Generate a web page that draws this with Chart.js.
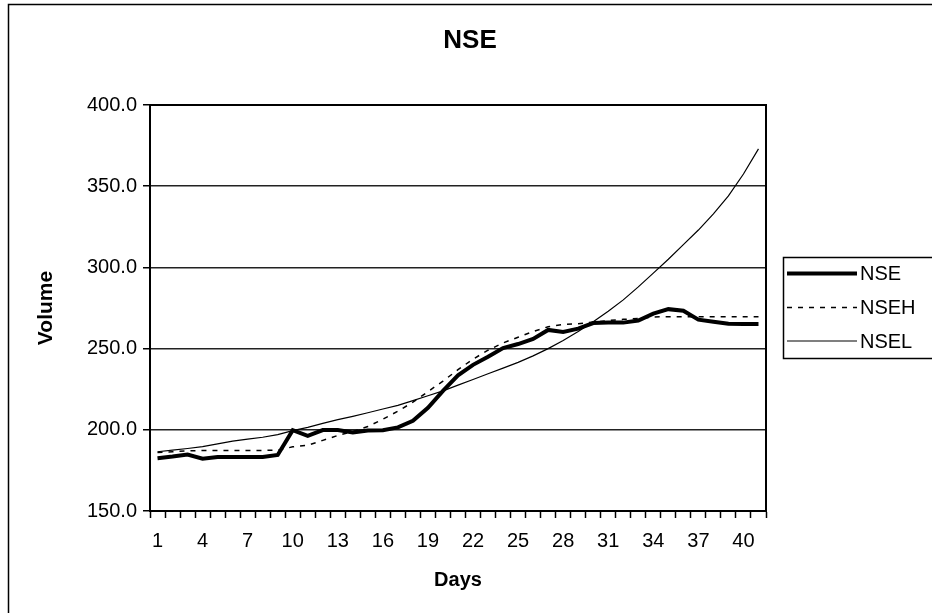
<!DOCTYPE html>
<html>
<head>
<meta charset="utf-8">
<script src="https://cdn.jsdelivr.net/npm/chart.js@4"></script>
<style>
  html, body { margin: 0; padding: 0; background: #fff; }
</style>
</head>
<body>
<canvas id="chart" width="932" height="613"></canvas>
<script>
// data
const days = [1, 2, 3, 4, 5, 6, 7, 8, 9, 10, 11, 12, 13, 14, 15, 16, 17, 18, 19, 20,
  21, 22, 23, 24, 25, 26, 27, 28, 29, 30, 31, 32, 33, 34, 35, 36, 37, 38, 39, 40, 41];

const nse = [182.5, 183.5, 184.8, 182.2, 183.3, 183.3, 183.3, 183.3, 184.5, 199.8,
  196.3, 199.8, 199.8, 198.3, 199.5, 199.7, 201.5, 205.5, 213.5, 224.0,
  233.5, 240.0, 245.0, 250.3, 252.8, 256.0, 261.5, 260.3, 262.3, 265.7,
  266.0, 266.0, 267.3, 271.5, 274.3, 273.3, 267.8, 266.5, 265.3, 265.1, 265.1];

const nseh = [186.0, 186.5, 187.0, 187.3, 187.3, 187.3, 187.3, 187.3, 187.5, 189.5,
  190.5, 193.5, 196.5, 199.0, 202.0, 206.5, 211.5, 217.0, 223.5, 230.0,
  237.0, 243.5, 249.0, 253.5, 257.0, 260.5, 263.5, 264.8, 265.3, 266.3,
  267.3, 268.0, 268.5, 269.5, 269.6, 269.6, 269.6, 269.6, 269.6, 269.6, 269.6];

const nsel = [186.5, 187.5, 188.5, 189.6, 191.3, 193.0, 194.2, 195.4, 197.0, 199.5,
  201.5, 204.0, 206.3, 208.3, 210.5, 212.8, 215.0, 218.0, 221.0, 224.0,
  227.5, 231.0, 234.5, 238.0, 241.5, 245.5, 250.0, 255.0, 260.5, 266.5,
  273.0, 280.0, 288.0, 296.5, 305.0, 314.0, 323.0, 333.0, 344.0, 357.5, 373.0];

const yMin = 150;
const yMax = 400;
const yStep = 50;

const FONT = "Arial, 'Liberation Sans', sans-serif";

// title, outer frame, plot frame and legend box
const frame = {
  id: 'frame',
  afterDraw(chart) {
    const ctx = chart.ctx;
    const a = chart.chartArea;
    ctx.save();

    // outer border of the chart
    ctx.strokeStyle = '#000';
    ctx.lineWidth = 1.5;
    ctx.strokeRect(8.5, 4.5, 940, 620);

    // top and right side of plot area
    ctx.lineWidth = 2;
    ctx.beginPath();
    ctx.moveTo(a.left, a.top);
    ctx.lineTo(a.right, a.top);
    ctx.lineTo(a.right, a.bottom);
    ctx.stroke();

    // title
    ctx.fillStyle = '#000';
    ctx.font = "bold 26px " + FONT;
    ctx.textAlign = 'center';
    ctx.textBaseline = 'middle';
    ctx.fillText('NSE', 470, 41);

    // legend
    ctx.lineWidth = 1.5;
    ctx.strokeRect(783.5, 257.5, 200, 101);
    ctx.font = "20px " + FONT;
    ctx.textAlign = 'left';
    const rows = [273.5, 307.5, 341];
    chart.data.datasets.forEach(function(ds, i) {
      ctx.strokeStyle = ds.borderColor;
      ctx.lineWidth = ds.borderWidth;
      ctx.setLineDash(ds.borderDash || []);
      ctx.beginPath();
      ctx.moveTo(787, rows[i]);
      ctx.lineTo(857, rows[i]);
      ctx.stroke();
      ctx.setLineDash([]);
      ctx.fillText(ds.label, 860, rows[i] + 1);
    });
    ctx.restore();
  }
};

new Chart(document.getElementById('chart'), {
  type: 'line',
  data: {
    labels: days,
    datasets: [{
      label: 'NSE',
      data: nse,
      borderColor: '#000',
      borderWidth: 4,
      pointRadius: 0,
      tension: 0
    }, {
      label: 'NSEH',
      data: nseh,
      borderColor: '#000',
      borderWidth: 1.5,
      borderDash: [5, 6],
      pointRadius: 0,
      tension: 0
    }, {
      label: 'NSEL',
      data: nsel,
      borderColor: '#000',
      borderWidth: 1.2,
      pointRadius: 0,
      tension: 0
    }]
  },
  options: {
    responsive: false,
    animation: false,
    devicePixelRatio: 1,
    layout: {
      padding: { left: 0, right: 166, top: 105, bottom: 0 }
    },
    plugins: {
      legend: { display: false },
      title: { display: false },
      tooltip: { enabled: false }
    },
    scales: {
      x: {
        offset: true,
        grid: {
          offset: true,
          drawOnChartArea: false,
          tickLength: 7,
          tickColor: '#000',
          tickWidth: 1.5
        },
        border: { color: '#000', width: 2 },
        ticks: {
          autoSkip: false,
          maxRotation: 0,
          padding: 11,
          color: '#000',
          font: { family: FONT, size: 20 },
          callback: function(v, i) {
            return (i % 3 === 0) ? days[i] : '';
          }
        },
        title: {
          display: true,
          text: 'Days',
          color: '#000',
          font: { family: FONT, size: 20, weight: 'bold' },
          padding: { top: 0, bottom: 21 }
        },
        afterFit: function(s) { s.height = 102; }
      },
      y: {
        min: yMin,
        max: yMax,
        grid: {
          color: '#222',
          lineWidth: 1.5,
          tickLength: 7,
          tickColor: '#000'
        },
        border: { color: '#000', width: 2 },
        ticks: {
          stepSize: yStep,
          padding: 6,
          color: '#000',
          font: { family: FONT, size: 20 },
          callback: function(v) { return v.toFixed(1); }
        },
        title: {
          display: true,
          text: 'Volume',
          color: '#000',
          font: { family: FONT, size: 21, weight: 'bold' },
          padding: { top: 34, bottom: 0 }
        },
        afterFit: function(s) { s.width = 150; }
      }
    }
  },
  plugins: [frame]
});
</script>
</body>
</html>
